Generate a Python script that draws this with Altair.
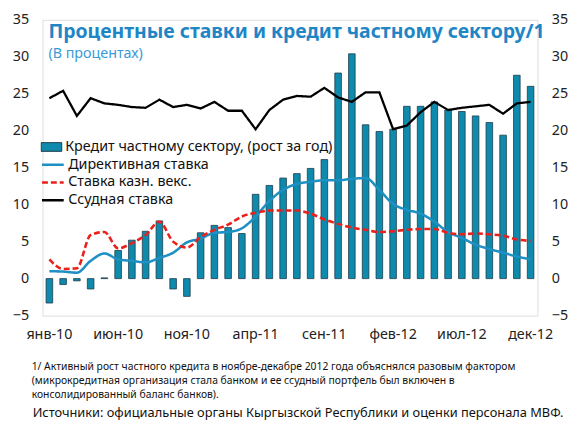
import altair as alt
import pandas as pd

months = ["янв-10", "фев-10", "мар-10", "апр-10", "май-10", "июн-10", "июл-10", "авг-10", "сен-10", "окт-10", "ноя-10", "дек-10",
          "янв-11", "фев-11", "мар-11", "апр-11", "май-11", "июн-11", "июл-11", "авг-11", "сен-11", "окт-11", "ноя-11", "дек-11",
          "янв-12", "фев-12", "мар-12", "апр-12", "май-12", "июн-12", "июл-12", "авг-12", "сен-12", "окт-12", "ноя-12", "дек-12"]
tick_labels = ["янв-10", "июн-10", "ноя-10", "апр-11", "сен-11", "фев-12", "июл-12", "дек-12"]

credit = [-3.3, -0.8, -0.3, -1.4, 0.1, 3.8, 5.2, 6.4, 7.8, -1.4, -2.4, 6.2,
          7.2, 6.9, 6.1, 11.4, 12.6, 13.6, 14.2, 14.9, 16.1, 27.8, 30.4, 20.8,
          19.9, 20.2, 23.3, 23.3, 23.9, 22.8, 22.6, 22.0, 21.1, 19.4, 27.5, 26.0]
policy = [1.0, 0.95, 0.8, 2.4, 3.4, 2.6, 2.4, 2.2, 2.8, 3.5, 4.9, 5.4,
          6.2, 6.3, 6.8, 8.4, 10.5, 12.0, 12.8, 13.1, 13.3, 13.3, 13.5, 13.6,
          12.0, 10.1, 9.3, 8.8, 7.7, 6.3, 5.5, 4.6, 4.0, 3.5, 3.0, 2.6]
tbill = [2.6, 1.3, 1.4, 5.9, 6.3, 4.1, 4.8, 5.9, 7.7, 5.0, 4.2, 5.6,
         6.6, 7.3, 8.4, 8.9, 9.2, 9.2, 9.2, 8.8, 8.0, 7.4, 6.9, 6.6,
         6.3, 6.4, 6.6, 6.7, 6.7, 6.2, 6.0, 6.1, 6.0, 5.8, 5.3, 5.1]
lending = [24.4, 25.4, 22.0, 24.4, 23.7, 23.5, 23.2, 23.1, 24.2, 23.2, 23.5, 23.0,
           23.9, 22.7, 22.7, 20.2, 22.8, 24.2, 24.7, 24.6, 25.8, 24.5, 23.9, 25.2,
           25.2, 20.2, 20.7, 22.5, 23.9, 22.8, 23.1, 23.3, 23.5, 22.3, 23.7, 23.9]

bar_name = "Кредит частному сектору, (рост за год)"
line_names = ["Директивная ставка", "Ставка казн. векс.", "Ссудная ставка"]
line_colors = ["#1E90C4", "#E8211D", "#000000"]
line_dashes = [[1, 0], [6, 3], [1, 0]]

title_text = "Процентные ставки и кредит частному сектору/1"
subtitle_text = "(В процентах)"
footnote_text = ("1/ Активный рост частного кредита в ноябре-декабре 2012 года объяснялся разовым фактором\n"
                 "(микрокредитная организация стала банком и ее ссудный портфель был включен в\n"
                 "консолидированный баланс банков).")
source_text = "Источники: официальные органы Кыргызской Республики и оценки персонала МВФ."

FONT = "Noto Sans"

bars_df = pd.DataFrame({"month": months, "value": credit, "series": bar_name})
smooth_df = pd.concat([
    pd.DataFrame({"month": months, "value": policy, "series": line_names[0]}),
    pd.DataFrame({"month": months, "value": tbill, "series": line_names[1]}),
])
lend_df = pd.DataFrame({"month": months, "value": lending, "series": line_names[2]})

x_enc = alt.X("month:O", sort=months,
              scale=alt.Scale(paddingInner=0.52, paddingOuter=0.26),
              axis=alt.Axis(values=tick_labels, labelAngle=0, title=None, ticks=False,
                            domain=False, labelPadding=12, labelFontSize=14.5,
                            labelFont=FONT, labelColor="#222222"))
y_scale = alt.Scale(domain=[-5, 35], nice=False, zero=False)
y_vals = [-5, 0, 5, 10, 15, 20, 25, 30, 35]


def y_axis(orient):
    return alt.Axis(values=y_vals, orient=orient, title=None, ticks=False, domain=False,
                    grid=False, labelPadding=14, labelFontSize=14.5, labelFont=FONT,
                    labelColor="#222222")


color_scale = alt.Scale(domain=line_names, range=line_colors)
dash_scale = alt.Scale(domain=line_names, range=line_dashes)
line_legend = alt.Legend(orient="none", legendX=-2, legendY=138, title=None,
                         symbolType="stroke", symbolSize=484, symbolStrokeWidth=2.5,
                         clipHeight=18, rowPadding=0, labelOffset=3, labelFontSize=14.5,
                         labelFont=FONT, labelColor="#111111", padding=0, labelLimit=400)

bars = alt.Chart(bars_df).mark_bar(stroke="#1d3b4a", strokeWidth=0.8).encode(
    x=x_enc,
    y=alt.Y("value:Q", scale=y_scale, axis=y_axis("left")),
    fill=alt.Fill("series:N", scale=alt.Scale(domain=[bar_name], range=["#0E8AAD"]),
                  legend=alt.Legend(orient="none", legendX=-2, legendY=120, title=None,
                                    symbolType="M-1,-0.42H1V0.42H-1Z", symbolSize=441,
                                    symbolStrokeColor="#1d3b4a", symbolStrokeWidth=1,
                                    clipHeight=18, labelOffset=3, labelFontSize=14.5,
                                    labelFont=FONT, labelColor="#111111", padding=0,
                                    labelLimit=400)),
)

smooth = alt.Chart(smooth_df).mark_line(interpolate="monotone", strokeWidth=2.6).encode(
    x=x_enc,
    y=alt.Y("value:Q", scale=y_scale, axis=None),
    color=alt.Color("series:N", scale=color_scale, legend=line_legend),
    strokeDash=alt.StrokeDash("series:N", scale=dash_scale, legend=line_legend),
)

lend = alt.Chart(lend_df).mark_line(strokeWidth=2.3).encode(
    x=x_enc,
    y=alt.Y("value:Q", scale=y_scale, axis=y_axis("right")),
    color=alt.Color("series:N", scale=color_scale, legend=line_legend),
    strokeDash=alt.StrokeDash("series:N", scale=dash_scale, legend=line_legend),
)

foot = alt.Chart(pd.DataFrame({"t": [footnote_text]})).mark_text(
    align="left", baseline="top", fontSize=10.5, lineHeight=14.2, lineBreak="\n",
    font=FONT, color="#111111"
).encode(x=alt.value(-11), y=alt.value(347), text="t:N")

src = alt.Chart(pd.DataFrame({"t": [source_text]})).mark_text(
    align="left", baseline="middle", fontSize=13, font=FONT, color="#111111"
).encode(x=alt.value(-10), y=alt.value(399), text="t:N")

chart = alt.layer(bars, smooth, lend, foot, src).resolve_axis(y="independent").properties(
    width=502, height=300,
    autosize=alt.AutoSizeParams(type="none"),
    padding={"left": 35, "top": 9, "right": 33, "bottom": 108},
    title=alt.TitleParams(title_text, subtitle=subtitle_text, anchor="start", frame="group",
                          dx=6, dy=49, offset=0, font=FONT, fontSize=19.7, fontWeight="bold",
                          color="#1F86C6", subtitleFont=FONT, subtitleFontSize=14.5,
                          subtitleColor="#3A9AD6", subtitlePadding=5),
).configure_view(stroke="#BFBFBF", strokeWidth=1).configure(background="white")

chart.save("out.html", embed_options={"renderer": "svg", "actions": False})
